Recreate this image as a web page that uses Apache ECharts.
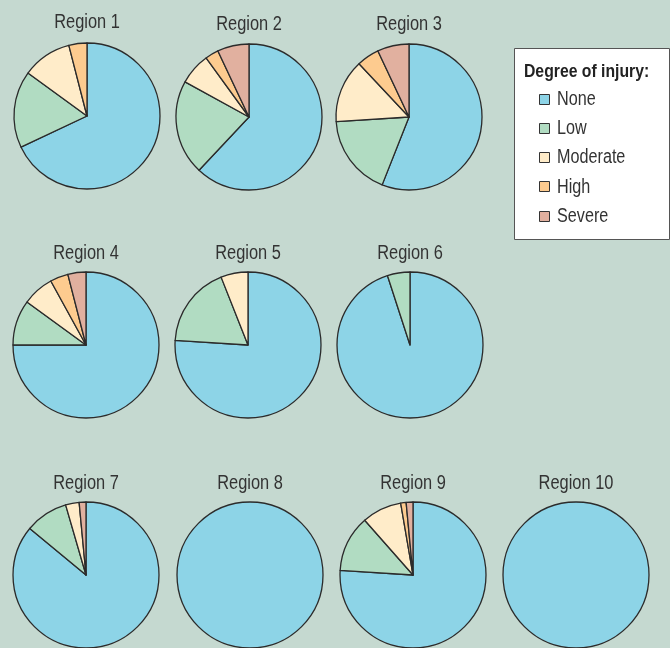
<!DOCTYPE html>
<html>
<head>
<meta charset="utf-8">
<script src="https://cdn.jsdelivr.net/npm/echarts@6/dist/echarts.min.js"></script>
<style>
  html, body { margin: 0; padding: 0; background: #c5d9d0; }
  #chart { width: 670px; height: 648px; }
</style>
</head>
<body>
<div id="chart"></div>
<script>
// Injury categories, in clockwise order starting at 12 o'clock
const categories = ['None', 'Low', 'Moderate', 'High', 'Severe'];
const categoryColors = ['#8dd4e7', '#b1dcc2', '#ffecc9', '#fdcb8f', '#e1b09f'];
const legendTitle = 'Degree of injury:';

// Share of each injury degree per region (percent)
const regionNames = ['Region 1', 'Region 2', 'Region 3', 'Region 4', 'Region 5',
                     'Region 6', 'Region 7', 'Region 8', 'Region 9', 'Region 10'];
const region1 = [68, 17, 11, 4, 0];
const region2 = [62, 21, 7, 3, 7];
const region3 = [56, 18, 14, 5, 7];
const region4 = [75, 10, 7, 4, 4];
const region5 = [76, 18, 6, 0, 0];
const region6 = [95, 5, 0, 0, 0];
const region7 = [86, 9.5, 3, 0, 1.5];
const region8 = [100, 0, 0, 0, 0];
const region9 = [76, 12.5, 8.8, 1.2, 1.5];
const region10 = [100, 0, 0, 0, 0];
const regionValues = [region1, region2, region3, region4, region5,
                      region6, region7, region8, region9, region10];

// Layout: pie centres and the vertical middle of each heading
const pieCenters = [
  [87, 116], [249, 117], [409, 117],
  [86, 345], [248, 345], [410, 345],
  [86, 575], [250, 575], [413, 575], [576, 575]
];
const titleMiddles = [22, 24.5, 24.5, 253, 253, 253, 483.5, 483.5, 483.5, 483.5];
const pieRadius = 73;

// Narrow lettering: a regular sans squeezed horizontally
const FONT = '"Liberation Sans", Arial, sans-serif';
const SQUEEZE = 0.82;

const chart = echarts.init(document.getElementById('chart'), null, { renderer: 'canvas' });

const titleTexts = regionNames.map((name, i) => ({
  type: 'text',
  x: pieCenters[i][0],
  y: titleMiddles[i],
  scaleX: SQUEEZE,
  silent: true,
  style: {
    text: name,
    x: 0, y: 0,
    textAlign: 'center',
    textVerticalAlign: 'middle',
    font: '20px ' + FONT,
    fill: '#333'
  }
}));

// Legend box, heading, swatches and labels
const legendLeft = 514, legendTop = 48, legendW = 155, legendH = 191;
const legendRowTop = 98.5, legendRowStep = 29.25;
const legendParts = [
  {
    type: 'rect',
    x: legendLeft + 0.5, y: legendTop + 0.5,
    silent: true,
    shape: { width: legendW, height: legendH },
    style: { fill: '#fff', stroke: '#555', lineWidth: 1 }
  },
  {
    type: 'text',
    x: 524, y: 72.5,
    scaleX: 0.9,
    silent: true,
    style: {
      text: legendTitle,
      x: 0, y: 0,
      textVerticalAlign: 'middle',
      font: 'bold 17.5px ' + FONT,
      fill: '#222'
    }
  }
];
categories.forEach((c, k) => {
  const cy = legendRowTop + k * legendRowStep;
  legendParts.push({
    type: 'rect',
    x: 539.5, y: Math.round(cy - 5) + 0.5,
    silent: true,
    shape: { width: 10, height: 10 },
    style: { fill: categoryColors[k], stroke: '#333', lineWidth: 1 }
  });
  legendParts.push({
    type: 'text',
    x: 557, y: cy + 1,
    scaleX: 0.83,
    silent: true,
    style: {
      text: c,
      x: 0, y: 0,
      textVerticalAlign: 'middle',
      font: '19.5px ' + FONT,
      fill: '#333'
    }
  });
});

const series = regionValues.map((vals, i) => ({
  type: 'pie',
  name: regionNames[i],
  center: pieCenters[i],
  radius: [0, pieRadius],
  startAngle: 90,
  clockwise: true,
  animation: false,
  silent: true,
  label: { show: false },
  labelLine: { show: false },
  emphasis: { disabled: true },
  itemStyle: { borderColor: '#2b2b2b', borderWidth: 1.3 },
  data: categories
    .map((c, k) => ({ name: c, value: vals[k], itemStyle: { color: categoryColors[k] } }))
    .filter(d => d.value > 0)
}));

chart.setOption({
  backgroundColor: '#c5d9d0',
  graphic: titleTexts.concat(legendParts),
  series: series
});
</script>
</body>
</html>
